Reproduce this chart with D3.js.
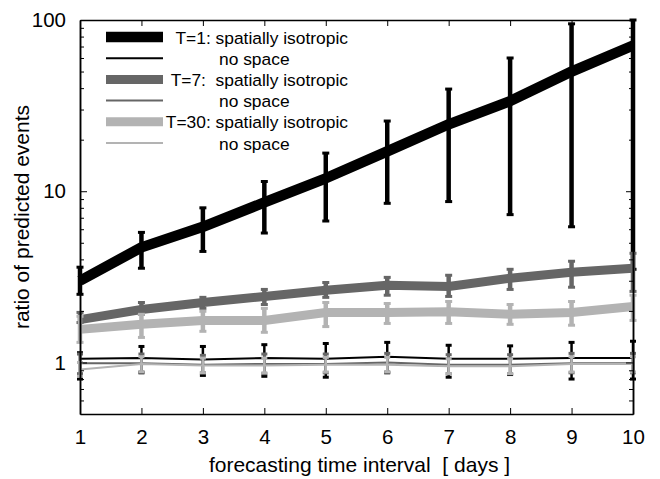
<!DOCTYPE html>
<html>
<head>
<meta charset="utf-8">
<script src="https://cdn.jsdelivr.net/npm/d3@7"></script>
<style>
  body { margin: 0; background: #fff; }
  svg text { font-family: "Liberation Sans", Arial, sans-serif; fill: #000; }
</style>
</head>
<body>
<div class="vis1"></div>
<script>
// forecasting interval (days)
var days = [1, 2, 3, 4, 5, 6, 7, 8, 9, 10];

// T=1
var t1Iso   = [3.0, 4.7, 6.2, 8.6, 11.9, 17.1, 24.6, 33.6, 50, 71];
var t1IsoLo = [2.5, 3.55, 4.45, 5.7, 6.7, 8.5, 8.7, 7.3, 6.2, 3.5];
var t1IsoHi = [3.6, 5.75, 8.0, 11.4, 16.7, 25.7, 39.5, 60, 95, 100];
var t1No    = [1.05, 1.06, 1.04, 1.06, 1.05, 1.08, 1.05, 1.05, 1.06, 1.06];
var t1NoLo  = [0.80, 0.87, 0.84, 0.83, 0.82, 0.87, 0.82, 0.85, 0.80, 0.80];
var t1NoHi  = [1.14, 1.24, 1.24, 1.27, 1.29, 1.31, 1.26, 1.25, 1.31, 1.33];

// T=7
var t7Iso   = [1.78, 2.04, 2.24, 2.43, 2.64, 2.82, 2.78, 3.1, 3.36, 3.55];
var t7IsoLo = [1.71, 1.91, 2.07, 2.18, 2.4, 2.47, 2.43, 2.67, 2.75, 2.6];
var t7IsoHi = [1.96, 2.24, 2.4, 2.67, 2.93, 3.14, 3.23, 3.5, 3.9, 4.34];
var t7No    = [0.99, 0.99, 0.97, 0.98, 0.98, 1.0, 0.97, 0.97, 0.99, 0.99];
var t7NoLo  = [0.86, 0.88, 0.87, 0.86, 0.87, 0.88, 0.86, 0.86, 0.87, 0.87];
var t7NoHi  = [1.12, 1.12, 1.1, 1.12, 1.12, 1.13, 1.11, 1.11, 1.13, 1.13];

// T=30
var t30Iso   = [1.56, 1.67, 1.76, 1.76, 1.96, 1.96, 1.98, 1.91, 1.96, 2.12];
var t30IsoLo = [1.31, 1.40, 1.52, 1.5, 1.62, 1.69, 1.69, 1.67, 1.65, 1.76];
var t30IsoHi = [1.86, 1.91, 1.99, 2.07, 2.24, 2.21, 2.27, 2.18, 2.27, 2.47];
var t30No    = [0.91, 0.98, 0.96, 0.96, 0.97, 0.97, 0.95, 0.95, 0.98, 0.98];
var t30NoLo  = [0.83, 0.88, 0.87, 0.87, 0.88, 0.88, 0.86, 0.86, 0.88, 0.88];
var t30NoHi  = [1.0, 1.08, 1.06, 1.06, 1.07, 1.07, 1.05, 1.05, 1.08, 1.08];

var xTicks = [1, 2, 3, 4, 5, 6, 7, 8, 9, 10];
var yTicks = [1, 10, 100];
var yMinor = [0.6, 0.7, 0.8, 0.9, 2, 3, 4, 5, 6, 7, 8, 9, 20, 30, 40, 50, 60, 70, 80, 90];

var legendLabels = ["T=1: spatially isotropic", "no space",
                    "T=7:  spatially isotropic", "no space",
                    "T=30: spatially isotropic", "no space"];

var margin = { top: 20, right: 27, bottom: 65, left: 80 },
    width = 660 - margin.left - margin.right,
    height = 479 - margin.top - margin.bottom;

var svg = d3.select(".vis1")
    .append("svg")
    .attr("width", 660)
    .attr("height", 479)
    .append("g")
    .attr("transform", "translate(" + margin.left + "," + margin.top + ")");

var x = d3.scaleLinear().domain([1, 10]).range([0, width]);
var y = d3.scaleLog().domain([0.5, 100]).range([height, 0]);

// series, in drawing order
var series = [
    { v: t1Iso, lo: t1IsoLo, hi: t1IsoHi, color: "#000000", lw: 10.5, ew: 4.5, cap: 7 },
    { v: t1No, lo: t1NoLo, hi: t1NoHi, color: "#000000", lw: 2, ew: 2.5, cap: 6 },
    { v: t7Iso, lo: t7IsoLo, hi: t7IsoHi, color: "#666666", lw: 9, ew: 4.5, cap: 7 },
    { v: t7No, lo: t7NoLo, hi: t7NoHi, color: "#666666", lw: 2, ew: 2.5, cap: 6 },
    { v: t30Iso, lo: t30IsoLo, hi: t30IsoHi, color: "#b3b3b3", lw: 9, ew: 4.5, cap: 7 },
    { v: t30No, lo: t30NoLo, hi: t30NoHi, color: "#b3b3b3", lw: 2, ew: 2.5, cap: 6 }
];

var line = d3.line()
    .x(function (d, i) { return x(days[i]); })
    .y(function (d) { return y(d); });

series.forEach(function (s) {
    var g = svg.append("g");

    svg.append("path")
        .datum(s.v)
        .attr("d", line)
        .style("fill", "none")
        .style("stroke", s.color)
        .style("stroke-width", s.lw)
        .style("stroke-linejoin", "round");

    var bars = g.selectAll(".bar")
        .data(days)
        .enter()
        .append("g");

    bars.append("line")
        .attr("x1", function (d) { return x(d); })
        .attr("x2", function (d) { return x(d); })
        .attr("y1", function (d, i) { return y(s.lo[i]); })
        .attr("y2", function (d, i) { return y(s.hi[i]); })
        .style("stroke", s.color)
        .style("stroke-width", s.ew);

    [s.lo, s.hi].forEach(function (arr) {
        bars.append("line")
            .attr("x1", function (d) { return x(d) - s.cap / 2; })
            .attr("x2", function (d) { return x(d) + s.cap / 2; })
            .attr("y1", function (d, i) { return y(arr[i]); })
            .attr("y2", function (d, i) { return y(arr[i]); })
            .style("stroke", s.color)
            .style("stroke-width", 3);
    });
});

// axes, ticks pointing inward on all four sides
svg.append("g")
    .attr("class", "x-axis")
    .attr("transform", "translate(0," + height + ")")
    .call(d3.axisBottom(x).tickValues(xTicks).tickFormat(d3.format("d"))
        .tickSizeInner(-6).tickSizeOuter(0).tickPadding(15));

svg.append("g")
    .attr("transform", "translate(0,0)")
    .call(d3.axisTop(x).tickValues(xTicks).tickFormat("")
        .tickSizeInner(-6).tickSizeOuter(0));

svg.append("g")
    .attr("class", "y-axis")
    .call(d3.axisLeft(y).tickValues(yTicks).tickFormat(d3.format("d"))
        .tickSizeInner(-7).tickSizeOuter(0).tickPadding(14));

svg.append("g")
    .call(d3.axisLeft(y).tickValues(yMinor).tickFormat("")
        .tickSizeInner(-4).tickSizeOuter(0));

svg.append("g")
    .attr("transform", "translate(" + width + ",0)")
    .call(d3.axisRight(y).tickValues(yTicks).tickFormat("")
        .tickSizeInner(-7).tickSizeOuter(0));

svg.append("g")
    .attr("transform", "translate(" + width + ",0)")
    .call(d3.axisRight(y).tickValues(yMinor).tickFormat("")
        .tickSizeInner(-4).tickSizeOuter(0));

svg.selectAll(".domain").style("stroke", "#000").style("stroke-width", 1.5);
svg.selectAll(".tick line").style("stroke", "#000").style("stroke-width", 1);
svg.selectAll(".tick text")
    .style("font-size", "20.5px")
    .style("font-family", "'Liberation Sans', Arial, sans-serif");

// axis titles
svg.append("text")
    .attr("x", width / 2 + 3)
    .attr("y", height + 58)
    .attr("text-anchor", "middle")
    .style("font-size", "21px")
    .style("white-space", "pre")
    .text("forecasting time interval  [ days ]");

svg.append("text")
    .attr("transform", "translate(" + (-51) + "," + (height / 2) + ") rotate(-90)")
    .attr("text-anchor", "middle")
    .style("font-size", "21px")
    .text("ratio of predicted events");

// legend
var legend = svg.append("g")
    .attr("transform", "translate(26,17)");

series.forEach(function (s, i) {
    var ly = i * 21.2;
    legend.append("line")
        .attr("x1", 0)
        .attr("x2", 57)
        .attr("y1", ly)
        .attr("y2", ly)
        .style("stroke", s.color)
        .style("stroke-width", s.lw);

    var iso = i % 2 === 0;
    legend.append("text")
        .attr("x", iso ? 242 : 113)
        .attr("y", ly + 6.5)
        .attr("text-anchor", iso ? "end" : "start")
        .style("font-size", "17.4px")
        .style("white-space", "pre")
        .text(legendLabels[i]);
});
</script>
</body>
</html>
